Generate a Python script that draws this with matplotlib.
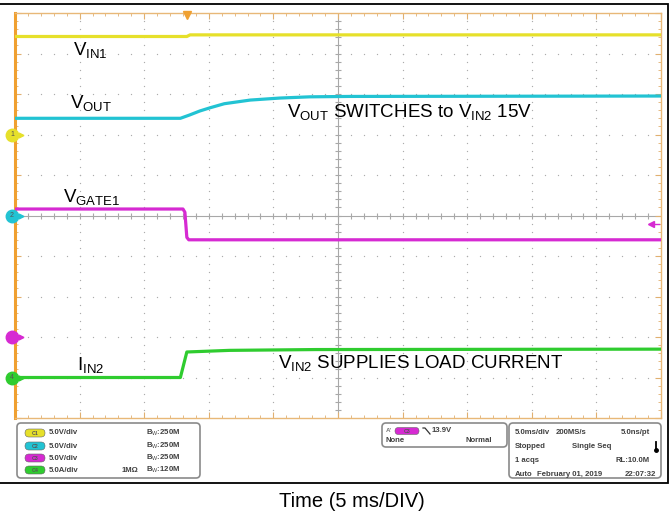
import matplotlib.pyplot as plt
from matplotlib.patches import FancyBboxPatch, Rectangle

plt.rcParams['font.family'] = ['Liberation Sans', 'DejaVu Sans']
plt.rcParams['mathtext.fontset'] = 'custom'
plt.rcParams['mathtext.rm'] = 'Liberation Sans'
plt.rcParams['mathtext.it'] = 'Liberation Sans:italic'
plt.rcParams['mathtext.bf'] = 'Liberation Sans:bold'

W, H = 670, 516

# scope setup
time_per_div = 5.0          # ms/div
trig_div = 2.66             # trigger position, divisions from left edge
scale = [5.0, 5.0, 5.0, 5.0]    # C1-C3 V/div, C4 A/div
ground_div = [2.0, 0.0, -3.0, -4.0]
trig_level = 13.9           # V on C3
colors = ['#e6e02a', '#22c3d3', '#d62ad2', '#2fcc2f']

# captured traces, time in ms relative to trigger
vin1_t = [-13.3, 0.0, 0.25, 36.7]
vin1_v = [12.1, 12.1, 12.3, 12.3]
vout_t = [-13.3, -0.5, 0.2, 1.0, 1.8, 2.9, 4.9, 7.2, 9.5, 12.6, 36.7]
vout_v = [12.0, 12.0, 12.4, 12.9, 13.3, 13.8, 14.25, 14.5, 14.65, 14.7, 14.75]
vgate_t = [-13.3, -0.3, -0.15, 0.0, 0.15, 36.7]
vgate_v = [15.8, 15.8, 15.4, 12.3, 12.0, 12.0]
iin2_t = [-13.3, -0.5, 0.0, 3.3, 10.0, 36.7]
iin2_a = [0.0, 0.0, 3.15, 3.35, 3.45, 3.5]

traces = [(vin1_t, vin1_v), (vout_t, vout_v), (vgate_t, vgate_v), (iin2_t, iin2_a)]

fig = plt.figure(figsize=(W / 100, H / 100), dpi=100)

# scope graticule: 10 x 10 divisions
ax = fig.add_axes([15 / W, 1 - 418 / H, 646 / W, 405 / H])
t0 = -trig_div * time_per_div
t1 = (10 - trig_div) * time_per_div
ax.set_xlim(t0, t1)
ax.set_ylim(-5, 5)
ax.set_xticks([t0 + i * time_per_div for i in range(11)])
ax.set_xticks([t0 + i * time_per_div / 5 for i in range(51)], minor=True)
ax.set_yticks(range(-5, 6))
ax.set_yticks([i / 5 for i in range(-25, 26)], minor=True)
ax.tick_params(which='both', direction='in', top=True, right=True,
               labelbottom=False, labelleft=False, color='#e0b070')
ax.tick_params(which='major', length=4, width=0.8)
ax.tick_params(which='minor', length=2.5, width=0.6)
for s in ax.spines.values():
    s.set_color('#e8b878')
    s.set_linewidth(1.0)
ax.spines['left'].set_color('#f0a030')
ax.spines['left'].set_linewidth(2.2)

# dotted division lines
gx, gy = [], []
tc = t0 + 5 * time_per_div
for i in range(1, 10):
    if i == 5:
        continue
    x = t0 + i * time_per_div
    for k in range(1, 50):
        gx.append(x)
        gy.append(-5 + k / 5)
for j in range(-4, 5):
    if j == 0:
        continue
    for k in range(1, 50):
        gx.append(t0 + k * time_per_div / 5)
        gy.append(j)
ax.scatter(gx, gy, s=0.9, color='#acacac', lw=0, zorder=1)

# center crosshair with minor ticks
ax.axhline(0, color='#a8a8a8', lw=0.8, zorder=1)
ax.axvline(tc, color='#a8a8a8', lw=0.8, zorder=1)
ax.plot([t0 + k * time_per_div / 5 for k in range(1, 50)], [0] * 49, '|',
        color='#a8a8a8', ms=4, mew=0.8, zorder=1)
ax.plot([tc] * 49, [-5 + k / 5 for k in range(1, 50)], '_',
        color='#a8a8a8', ms=5, mew=0.8, zorder=1)

# waveforms
for (t, v), sc, g, c in zip(traces, scale, ground_div, colors):
    ax.plot(t, [val / sc + g for val in v], color=c, lw=2.3,
            solid_joinstyle='round', zorder=3)

# ground markers at the left edge
dx = time_per_div / 64.6
for n, (g, c) in enumerate(zip(ground_div, colors)):
    ax.plot(t0 - 3 * dx, g, 'o', ms=9, color=c, mec=c, clip_on=False, zorder=5)
    ax.plot(t0 + 6 * dx, g, '>', ms=3.5, color=c, clip_on=False, zorder=5)
    ax.plot([t0, t0 + 6 * dx], [g, g], color=c, lw=0.8, clip_on=False, zorder=5)
    if n != 2:
        ax.text(t0 - 3 * dx, g, str(n + 1), ha='center', va='center',
                fontsize=5, color='#555555', zorder=6, clip_on=False)

# trigger time and level markers
ax.plot(0, 5 - 1.5 / 40.5, 'v', ms=6, color='#f0a030', clip_on=False, zorder=6)
lvl = trig_level / scale[2] + ground_div[2]
ax.plot([t1 - 10 * dx, t1 - 2 * dx], [lvl, lvl], color=colors[2], lw=1.0)
ax.plot(t1 - 10 * dx, lvl, '<', ms=4, color=colors[2])

# pixel-coordinate overlay for labels and status panel
ov = fig.add_axes([0, 0, 1, 1], zorder=10)
ov.set_xlim(0, W)
ov.set_ylim(H, 0)
ov.axis('off')
ov.patch.set_alpha(0)

lab = dict(fontsize=13.5, color='black', va='baseline', ha='left')
ov.text(73, 55, r'V$_{\mathrm{IN1}}$', **lab)
ov.text(70, 108, r'V$_{\mathrm{OUT}}$', **lab)
ov.text(287, 117, r'V$_{\mathrm{OUT}}$ SWITCHES to V$_{\mathrm{IN2}}$ 15V', **lab)
ov.text(63, 202, r'V$_{\mathrm{GATE1}}$', **lab)
ov.text(77, 370, r'I$_{\mathrm{IN2}}$', **lab)
ov.text(278, 368, r'V$_{\mathrm{IN2}}$ SUPPLIES LOAD CURRENT', **lab)
ov.text(352, 507, 'Time (5 ms/DIV)', fontsize=14.5, ha='center', va='baseline')

# screenshot border
ov.add_patch(Rectangle((-2, 4), 670, 479, fill=False, ec='black', lw=1.3))


def box(x, y, w, h):
    ov.add_patch(FancyBboxPatch((x, y), w, h, boxstyle='round,pad=0,rounding_size=4',
                                fc='white', ec='#8a8a8a', lw=1.2))


def badge(x, y, c, s):
    ov.add_patch(FancyBboxPatch((x, y - 4), 20, 8, boxstyle='round,pad=0,rounding_size=4',
                                fc=c, ec='#666666', lw=0.4))
    ov.text(x + 10, y + 0.3, s, fontsize=3.8, ha='center', va='center',
            color='#555555', fontweight='bold')


st = dict(fontsize=5.6, fontweight='bold', color='#404040', va='center')

# channel settings
box(17, 423, 183, 55)
rows = [433, 446, 458, 470]
units = ['5.0V/div', '5.0V/div', '5.0V/div', '5.0A/div']
bws = ['250M', '250M', '250M', '120M']
for n, y in enumerate(rows):
    badge(25, y, colors[n], 'C%d' % (n + 1))
    ov.text(49, y, units[n], **st)
    ov.text(146, y, r'B$_{\mathrm{W}}$:' + bws[n], **st)
ov.text(122, rows[3], '1M\u03a9', **st)

# trigger settings
box(382, 423, 125, 24)
ov.text(386, 431, "A'", fontsize=4.5, color='#777777', va='center', fontweight='bold')
ov.add_patch(FancyBboxPatch((395, 427.5), 24, 7, boxstyle='round,pad=0,rounding_size=3.5',
                            fc=colors[2], ec='#666666', lw=0.4))
ov.text(407, 431.3, 'C3', fontsize=3.8, ha='center', va='center', color='#555555',
        fontweight='bold')
ov.plot([423, 425, 430], [428, 428, 434], color='#333333', lw=0.9)
ov.text(432, 431, '%.1fV' % trig_level, **st)
ov.text(385, 441, 'None', **st)
ov.text(492, 441, 'Normal', ha='right', **st)

# acquisition settings
box(509, 423, 152, 55)
ov.text(515, 432, '5.0ms/div', **st)
ov.text(556, 432, '200MS/s', **st)
ov.text(650, 432, '5.0ns/pt', ha='right', **st)
ov.text(515, 446, 'Stopped', **st)
ov.text(572, 446, 'Single Seq', **st)
ov.plot([656, 656], [442, 449], color='black', lw=1.3)
ov.plot(656, 450, 'o', ms=2.5, color='black')
ov.text(515, 460, '1 acqs', **st)
ov.text(650, 460, 'RL:10.0M', ha='right', **st)
ov.text(515, 474, 'Auto', **st)
ov.text(537, 474, 'February 01, 2019', **st)
ov.text(656, 474, '22:07:32', ha='right', **st)

fig.savefig('out.png', dpi=100)
